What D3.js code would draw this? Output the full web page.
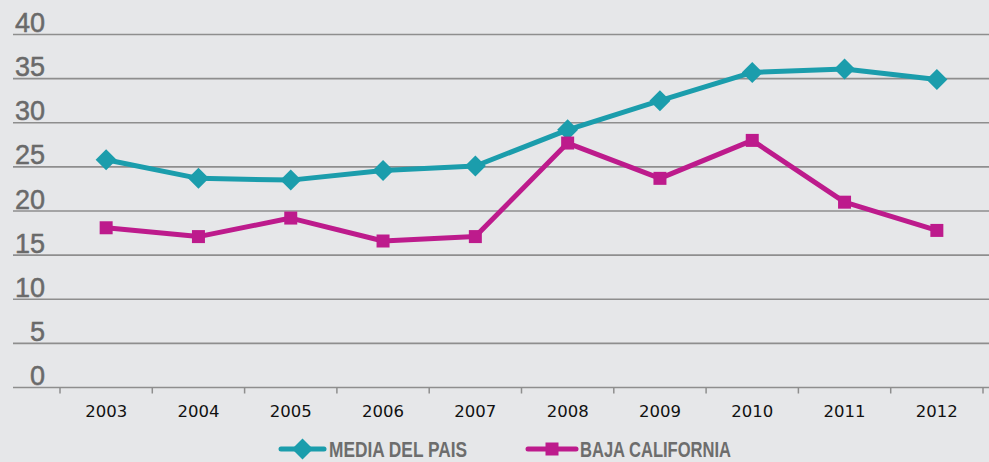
<!DOCTYPE html>
<meta charset="utf-8">
<script src="https://cdn.jsdelivr.net/npm/d3@7/dist/d3.min.js"></script>
<style>
body {margin: 0; background: #e6e7e9;}
.grid line {stroke: #8e8e8e; stroke-width: 1.6;}
.ylab {font-family: "Liberation Sans", Arial, sans-serif; font-size: 27px; fill: #6a6a6a; stroke: #6a6a6a; stroke-width: 0.5px; text-anchor: end;}
.xlab {font-family: "DejaVu Sans", Verdana, sans-serif; font-size: 16.5px; fill: #111; text-anchor: middle;}
.leg {font-family: "Liberation Sans Narrow", "Liberation Sans", sans-serif; font-size: 22px; fill: #6d6d6d; font-weight: bold;}
</style>
<div id="vis"></div>
<script>

var years = ["2003","2004","2005","2006","2007","2008","2009","2010","2011","2012"];
var media = [25.8, 23.7, 23.5, 24.6, 25.1, 29.2, 32.5, 35.7, 36.1, 34.9];
var baja = [18.1, 17.1, 19.2, 16.6, 17.1, 27.7, 23.7, 28.0, 21.0, 17.8];
var yTicks = [0, 5, 10, 15, 20, 25, 30, 35, 40];
var seriesNames = ["MEDIA DEL PAIS", "BAJA CALIFORNIA"];
var teal = "#1b9dac", magenta = "#bd1b8c";

var w = 989, h = 462;

var svg = d3.select("#vis").append("svg")
    .attr("width", w)
    .attr("height", h);

svg.append("rect").attr("width", w).attr("height", h).attr("fill", "#e6e7e9");

var x = d3.scaleBand().domain(years).range([60, 983]);
var y = d3.scaleLinear().domain([0, 40]).range([387.5, 34.5]);

// gridlines
var grid = svg.append("g").attr("class", "grid");
grid.selectAll("line")
  .data(yTicks)
  .enter().append("line")
    .attr("x1", 13).attr("x2", w)
    .attr("y1", function(d) { return y(d); })
    .attr("y2", function(d) { return y(d); });

// y labels sit above their gridline
svg.selectAll(".ylab")
  .data(yTicks)
  .enter().append("text")
    .attr("class", "ylab")
    .attr("x", 45)
    .attr("y", function(d) { return y(d) - 2.5; })
    .text(function(d) { return d; });

// x tick marks at band edges
var edges = years.map(function(d) { return x(d); }).concat([x.range()[1]]);
svg.selectAll(".xtick")
  .data(edges)
  .enter().append("line")
    .attr("x1", function(d) { return d; })
    .attr("x2", function(d) { return d; })
    .attr("y1", y(0))
    .attr("y2", y(0) + 6)
    .attr("stroke", "#8e8e8e")
    .attr("stroke-width", 1.5);

svg.selectAll(".xlab")
  .data(years)
  .enter().append("text")
    .attr("class", "xlab")
    .attr("x", function(d) { return x(d) + x.bandwidth() / 2; })
    .attr("y", 417)
    .text(function(d) { return d; });

var line = d3.line()
    .x(function(d, i) { return x(years[i]) + x.bandwidth() / 2; })
    .y(function(d) { return y(d); });

function drawSeries(values, color, shape) {
  var g = svg.append("g");
  g.append("path")
    .attr("d", line(values))
    .attr("fill", "none")
    .attr("stroke", color)
    .attr("stroke-width", 5)
    .attr("stroke-linejoin", "round");
  g.selectAll(".pt")
    .data(values)
    .enter().append("path")
      .attr("transform", function(d, i) {
        return "translate(" + (x(years[i]) + x.bandwidth() / 2) + "," + y(d) + ")";
      })
      .attr("d", shape)
      .attr("fill", color);
}

var diamond = "M0,-10.5L10.5,0L0,10.5L-10.5,0Z";
var square = "M-6.5,-6.5H6.5V6.5H-6.5Z";

drawSeries(media, teal, diamond);
drawSeries(baja, magenta, square);

// legend
var legend = [
  {name: seriesNames[0], color: teal, shape: diamond, x0: 281, x1: 324, tx: 329, tw: 138},
  {name: seriesNames[1], color: magenta, shape: square, x0: 528, x1: 576, tx: 580, tw: 151}
];
var lg = svg.selectAll(".lg")
  .data(legend)
  .enter().append("g");
lg.append("line")
    .attr("x1", function(d) { return d.x0; })
    .attr("x2", function(d) { return d.x1; })
    .attr("y1", 449).attr("y2", 449)
    .attr("stroke", function(d) { return d.color; })
    .attr("stroke-width", 5)
    .attr("stroke-linecap", "round");
lg.append("path")
    .attr("transform", function(d) { return "translate(" + (d.x0 + d.x1) / 2 + ",449)"; })
    .attr("d", function(d) { return d.shape; })
    .attr("fill", function(d) { return d.color; });
lg.append("text")
    .attr("class", "leg")
    .attr("x", function(d) { return d.tx; })
    .attr("y", 456.5)
    .attr("textLength", function(d) { return d.tw; })
    .attr("lengthAdjust", "spacingAndGlyphs")
    .text(function(d) { return d.name; });

</script>
